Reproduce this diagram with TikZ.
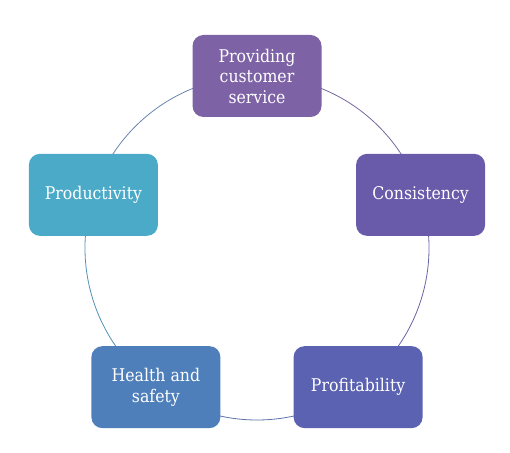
\documentclass[tikz,border=0pt]{standalone}
\usepackage{fontspec}
\setmainfont{DejaVu Serif}[FakeStretch=0.9]
\usetikzlibrary{calc}
\begin{document}
\begin{tikzpicture}[x=1pt,y=1pt,
  box/.style={rounded corners=11pt, minimum width=129pt, minimum height=82pt,
    text=white, align=center, inner sep=2pt,
    font=\fontsize{17.5}{20.5}\selectfont},
  ring/.style={line width=0.8pt}]
\definecolor{cA}{HTML}{7E62A6}
\definecolor{cB}{HTML}{6A5AAA}
\definecolor{cC}{HTML}{5B62B2}
\definecolor{cD}{HTML}{4E7FBB}
\definecolor{cE}{HTML}{4BAAC7}
\useasboundingbox (0,0) rectangle (510,452);
\coordinate (c) at (257,204);
\draw[ring, color=cA!50!cB!70!gray] (c) ++(90:172) arc[start angle=90, end angle=18, radius=172];
\draw[ring, color=cB!50!cC!80!gray] (c) ++(18:172) arc[start angle=18, end angle=-54, radius=172];
\draw[ring, color=cC!50!cD!80!gray] (c) ++(-54:172) arc[start angle=-54, end angle=-126, radius=172];
\draw[ring, color=cD!50!cE!85!gray] (c) ++(-126:172) arc[start angle=-126, end angle=-198, radius=172];
\draw[ring, color=cE!50!cA!85!gray] (c) ++(162:172) arc[start angle=162, end angle=90, radius=172];
\node[box, fill=cA] (a) at ($(c)+(90:172)$) {Providing\\customer\\service};
\node[box, fill=cB] (b) at ($(c)+(18:172)$) {Consistency};
\node[box, fill=cC] (p) at ($(c)+(-54:172)$) {Profitability};
\node[box, fill=cD] (h) at ($(c)+(-126:172)$) {Health and\\safety};
\node[box, fill=cE] (q) at ($(c)+(162:172)$) {Productivity};
\end{tikzpicture}
\end{document}
